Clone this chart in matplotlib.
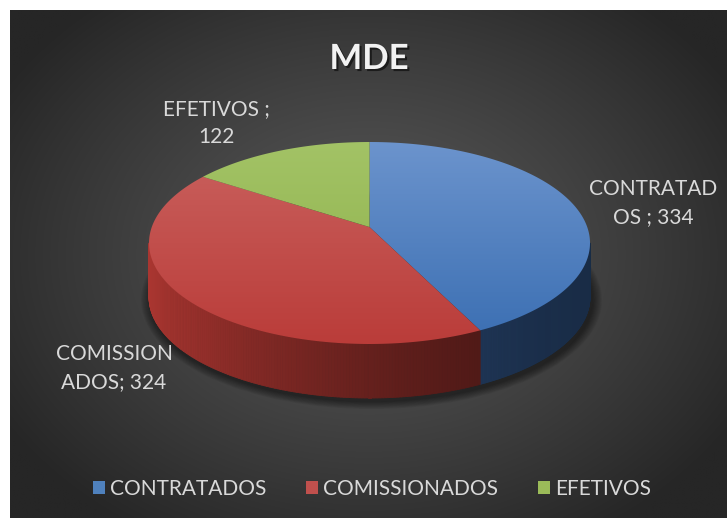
import numpy as np
import matplotlib
matplotlib.use("Agg")
import matplotlib.pyplot as plt
from matplotlib.patches import Polygon, Patch, Ellipse
from matplotlib.collections import PolyCollection
import matplotlib.patheffects as pe

# ---------------- data ----------------
categories = ["CONTRATADOS", "COMISSIONADOS", "EFETIVOS"]
values = [334, 324, 122]
label_texts = ["CONTRATAD\nOS ; 334", "COMISSION\nADOS; 324", "EFETIVOS ;\n122"]
title = "MDE"

# ---------------- style ----------------
top_light = [(108, 148, 205), (202, 98, 95), (163, 195, 102)]
top_dark = [(58, 110, 178), (186, 60, 57), (140, 176, 72)]
side_base = [(72, 128, 205), (196, 62, 56), (150, 190, 80)]
legend_cols = ["#4F81BD", "#C0504D", "#9BBB59"]
label_pos = [(653, 203), (114, 368), (216, 123)]
FONT = ["Lato", "DejaVu Sans"]
W, H = 727, 518

fig = plt.figure(figsize=(W / 100, H / 100), dpi=100)
fig.patch.set_facecolor("white")
ax = fig.add_axes([0, 0, 1, 1])
ax.set_xlim(0, W)
ax.set_ylim(H, 0)
ax.axis("off")

# background radial gradient
bx0, by0 = 10, 10
xx, yy = np.meshgrid(np.linspace(bx0, W, 360), np.linspace(by0, H, 260))
r = np.sqrt(((xx - 369) / 430.0) ** 2 + ((yy - 255) / 330.0) ** 2)
r = np.clip(r, 0, 1)
g = (88 - (88 - 38) * r ** 1.2) / 255.0
bg = np.dstack([g, g, g])
ax.imshow(bg, extent=(bx0, W, H, by0), origin="upper", zorder=0, interpolation="bilinear")

# ---------------- pie geometry ----------------
cx, cy = 369.5, 243.0
a, b = 220.5, 101.0
k = 0.158
depth = 54.0
sk = np.sqrt(1 - k * k)


def proj(tdeg):
    t = np.radians(tdeg)
    u, v = np.cos(t), np.sin(t)
    den = 1 + k * v
    up = u * sk / den
    vp = (v + k) / den
    return cx + a * up, cy - b * vp


apex = (cx, cy - b * k)
total = float(sum(values))
bounds = [90.0]
for v in values:
    bounds.append(bounds[-1] - 360.0 * v / total)

# shadow
for j in range(10):
    e = Ellipse((cx + 2, cy + depth + 3), 2 * (a + 10 - j), 2 * (b + 8 - j * 0.8),
                facecolor="black", edgecolor="none", alpha=0.05, zorder=1)
    ax.add_patch(e)

# sides
front_lo = -180 + np.degrees(np.arcsin(k))
front_hi = -np.degrees(np.arcsin(k))
for i in range(len(values)):
    hi, lo = bounds[i], bounds[i + 1]
    s_lo, s_hi = max(lo, front_lo), min(hi, front_hi)
    if s_hi <= s_lo:
        continue
    ts = np.linspace(s_lo, s_hi, 160)
    polys, cols = [], []
    for t0, t1 in zip(ts[:-1], ts[1:]):
        x0, y0 = proj(t0)
        x1, y1 = proj(t1)
        polys.append([(x0, y0), (x1, y1), (x1, y1 + depth), (x0, y0 + depth)])
        tm = np.radians(0.5 * (t0 + t1))
        f = (np.cos(tm - np.pi) + 1) / 2.0
        fac = 0.34 + 0.54 * f ** 1.6
        cols.append(tuple(min(1, c / 255.0 * fac) for c in side_base[i]))
    pc = PolyCollection(polys, facecolors=cols, edgecolors=cols, linewidths=0.6, zorder=2)
    ax.add_collection(pc)

# tops
ytop, ybot = cy - b, cy + b
for i in range(len(values)):
    hi, lo = bounds[i], bounds[i + 1]
    ts = np.linspace(hi, lo, 200)
    px, py = proj(ts)
    pts = [apex] + list(zip(px, py))
    poly = Polygon(pts, closed=True, facecolor="none", edgecolor="none", zorder=3)
    ax.add_patch(poly)
    n = 200
    fr = np.linspace(0, 1, n)[:, None]
    c0 = np.array(top_light[i]) / 255.0
    c1 = np.array(top_dark[i]) / 255.0
    grad = (c0[None, :] * (1 - fr) + c1[None, :] * fr)[:, None, :]
    im = ax.imshow(grad, extent=(cx - a - 2, cx + a + 2, ybot + 2, ytop - 2), origin="upper",
                   zorder=3, interpolation="bilinear", aspect="auto")
    im.set_clip_path(poly)
ax.set_xlim(0, W)
ax.set_ylim(H, 0)

# title
ax.text(369, 59, title, fontsize=25, fontweight="bold", color="#F2F2F2", family=FONT,
        ha="center", va="center", zorder=5,
        path_effects=[pe.SimplePatchShadow(offset=(1.5, -1.5), shadow_rgbFace="black", alpha=0.55),
                      pe.Normal()])

# data labels
for txt, (lx, ly) in zip(label_texts, label_pos):
    ax.text(lx, ly, txt, fontsize=15, color="#D9D9D9", family=FONT, ha="center", va="center",
            linespacing=1.45, zorder=5)

# legend
handles = [Patch(facecolor=c, edgecolor="none") for c in legend_cols]
leg = ax.legend(handles, categories, loc="center", bbox_to_anchor=(372 / W, 1 - 489 / H),
                ncol=3, frameon=False, prop={"family": FONT, "size": 15},
                handlelength=0.58, handleheight=0.58, handletextpad=0.25, columnspacing=1.9,
                labelcolor="#D9D9D9")

fig.savefig("out.png", dpi=100, facecolor="white")
